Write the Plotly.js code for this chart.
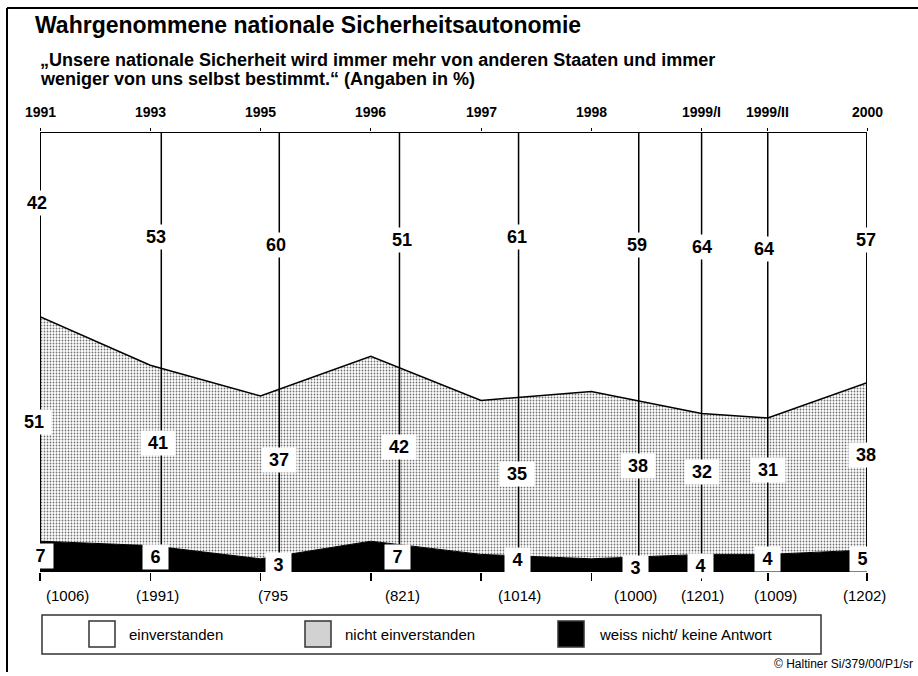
<!DOCTYPE html>
<html>
<head>
<meta charset="utf-8">
<script src="https://cdn.plot.ly/plotly-3.0.1.min.js"></script>
<style>
  html, body { margin: 0; padding: 0; background: #fff; }
  #chart { width: 918px; height: 676px; }
</style>
</head>
<body>
<div id="chart"></div>
<script>
// ---------------- data ----------------
const surveys = ['1991', '1993', '1995', '1996', '1997', '1998', '1999/I', '1999/II', '2000'];
// relative position of each survey on the time axis (as drawn in the original)
const surveyTime = [0, 1, 2, 3, 4, 5, 6, 6.6, 7.5];
const sampleSize = ['(1006)', '(1991)', '(795', '(821)', '(1014)', '(1000)', '(1201)', '(1009)', '(1202)'];
const einverstanden = [42, 53, 60, 51, 61, 59, 64, 64, 57];
const nichtEinverstanden = [51, 41, 37, 42, 35, 38, 32, 31, 38];
const weissNicht = [7, 6, 3, 7, 4, 3, 4, 4, 5];

// ---------------- label placement (layout only) ----------------
const markerLineX = [0, 1.1, 2.17, 3.26, 4.34, 5.43, 6.0, 6.6, 7.5];
const topLabelX = [-0.03, 1.05, 2.14, 3.28, 4.33, 5.41, 6.0, 6.57, 7.49];
const topLabelY = [83.9, 76.1, 74.3, 75.5, 76.1, 74.3, 73.9, 73.4, 75.5];
const midLabelX = [-0.05, 1.07, 2.17, 3.26, 4.33, 5.42, 6.0, 6.6, 7.49];
const midLabelY = [34.1, 29.3, 25.5, 28.4, 22.3, 24.1, 22.7, 23.2, 26.6];
const lowLabelX = [0, 1.05, 2.16, 3.24, 4.33, 5.40, 5.99, 6.6, 7.46];
const lowLabelY = [3.6, 3.4, 1.6, 3.4, 2.7, 0.9, 1.4, 3.0, 3.0];
const nLabelX = [0.25, 1.07, 2.11, 3.29, 4.35, 5.40, 6.01, 6.67, 7.48];

const W = 918, H = 676;
const M = { l: 40, r: 51, t: 132, b: 104 };
const PW = W - M.l - M.r, PH = H - M.t - M.b;
const px = v => (v - M.l) / PW;          // page px -> paper x
const py = v => (H - M.b - v) / PH;      // page px -> paper y
const X0 = surveyTime[0], X1 = surveyTime[surveyTime.length - 1];
const xPaper = v => (v - X0) / (X1 - X0); // time axis value -> paper x (labels may sit outside the range)

const FONT = 'Liberation Sans, Arial, Helvetica, sans-serif';
const GRAY_FG = '#707070';

// ---------------- traces ----------------
const traces = [
  {
    name: 'weiss nicht/ keine Antwort', x: surveyTime, y: weissNicht,
    type: 'scatter', mode: 'lines', stackgroup: 'one',
    line: { color: '#000', width: 1 }, fillcolor: '#000', hoverinfo: 'y+name'
  },
  {
    name: 'nicht einverstanden', x: surveyTime, y: nichtEinverstanden,
    type: 'scatter', mode: 'lines', stackgroup: 'one',
    line: { color: '#000', width: 1.5 }, fillcolor: '#ffffff',
    fillpattern: { shape: '.', size: 3, solidity: 0.28, fgcolor: GRAY_FG, bgcolor: '#ffffff' },
    hoverinfo: 'y+name'
  },
  {
    name: 'einverstanden', x: surveyTime, y: einverstanden,
    type: 'scatter', mode: 'lines', stackgroup: 'one',
    line: { color: '#000', width: 0 }, fillcolor: '#ffffff', hoverinfo: 'y+name'
  }
];

// ---------------- shapes ----------------
const shapes = [];
shapes.push({ type: 'line', xref: 'paper', yref: 'paper', x0: px(7), x1: px(918), y0: py(8), y1: py(8), line: { color: '#000', width: 2 } });
shapes.push({ type: 'line', xref: 'paper', yref: 'paper', x0: px(7), x1: px(7), y0: py(8), y1: py(672), line: { color: '#000', width: 2 } });
shapes.push({ type: 'line', xref: 'x', yref: 'y', x0: X0, x1: X1, y0: 100, y1: 100, layer: 'above', line: { color: '#000', width: 2 } });
markerLineX.forEach((xv, i) => {
  shapes.push({ type: 'line', xref: 'x', yref: 'y', x0: xv, x1: xv, y0: 0, y1: 100, layer: 'above',
    line: { color: '#000', width: (i === 0 || i === markerLineX.length - 1) ? 2 : 1.5 } });
});
shapes.push({ type: 'rect', xref: 'paper', yref: 'paper', x0: px(42), x1: px(821), y0: py(654), y1: py(615), line: { color: '#333', width: 1.5 }, fillcolor: 'rgba(0,0,0,0)' });
const swatches = [[89, '#ffffff'], [305, '#d2d2d2'], [558, '#000000']];
swatches.forEach(([x0, c]) => {
  shapes.push({ type: 'rect', xref: 'paper', yref: 'paper', x0: px(x0), x1: px(x0 + 26), y0: py(647), y1: py(621), line: { color: '#333', width: 1.5 }, fillcolor: c });
});

// ---------------- annotations ----------------
const ann = [];
const txt = (o) => ann.push(Object.assign({ showarrow: false }, o));

txt({ text: 'Wahrgenommene nationale Sicherheitsautonomie', xref: 'paper', yref: 'paper', x: px(33), y: py(25), xanchor: 'left', yanchor: 'middle',
  font: { family: FONT, size: 23, color: '#000', weight: 700 } });
txt({ text: '\u201EUnsere nationale Sicherheit wird immer mehr von anderen Staaten und immer', xref: 'paper', yref: 'paper', x: px(38), y: py(60), xanchor: 'left', yanchor: 'middle',
  font: { family: FONT, size: 18, color: '#000', weight: 700 } });
txt({ text: 'weniger von uns selbst bestimmt.\u201C (Angaben in %)', xref: 'paper', yref: 'paper', x: px(38), y: py(79), xanchor: 'left', yanchor: 'middle',
  font: { family: FONT, size: 18, color: '#000', weight: 700 } });

surveys.forEach((s, i) => {
  txt({ text: s, xref: 'paper', yref: 'paper', x: xPaper(surveyTime[i]), y: py(112), xanchor: 'center', yanchor: 'middle',
    font: { family: FONT, size: 14, color: '#000', weight: 700 } });
});
sampleSize.forEach((s, i) => {
  txt({ text: s, xref: 'paper', yref: 'paper', x: xPaper(nLabelX[i]), y: py(595), xanchor: 'center', yanchor: 'middle',
    font: { family: FONT, size: 15, color: '#000' } });
});
const valueLabel = (v, xv, yv) => {
  const w = String(v).length > 1 ? 34 : 25;
  txt({ text: String(v), xref: 'paper', yref: 'y', x: xPaper(xv), y: yv, xanchor: 'center', yanchor: 'middle',
    width: w, height: 24, bgcolor: '#ffffff', borderpad: 0,
    font: { family: FONT, size: 18, color: '#000', weight: 700 } });
};
einverstanden.forEach((v, i) => valueLabel(v, topLabelX[i], topLabelY[i]));
nichtEinverstanden.forEach((v, i) => valueLabel(v, midLabelX[i], midLabelY[i]));
weissNicht.forEach((v, i) => valueLabel(v, lowLabelX[i], lowLabelY[i]));

const legendNames = ['einverstanden', 'nicht einverstanden', 'weiss nicht/ keine Antwort'];
const legendTextX = [127, 343, 597];
legendNames.forEach((n, i) => {
  txt({ text: n, xref: 'paper', yref: 'paper', x: px(legendTextX[i]), y: py(634), xanchor: 'left', yanchor: 'middle',
    font: { family: FONT, size: 15, color: '#000' } });
});
txt({ text: '\u00A9 Haltiner Si/379/00/P1/sr', xref: 'paper', yref: 'paper', x: px(915), y: py(664), xanchor: 'right', yanchor: 'middle',
  font: { family: FONT, size: 12, color: '#000' } });

const layout = {
  width: W, height: H,
  margin: { l: M.l, r: M.r, t: M.t, b: M.b, pad: 0 },
  paper_bgcolor: '#ffffff', plot_bgcolor: '#ffffff',
  showlegend: false,
  font: { family: FONT, color: '#000' },
  xaxis: {
    range: [X0, X1],
    showgrid: false, zeroline: false, showline: false,
    tickmode: 'array', tickvals: surveyTime, ticks: 'outside', ticklen: 8, tickwidth: 1.5, tickcolor: '#000',
    showticklabels: false, fixedrange: true
  },
  xaxis2: {
    overlaying: 'x', side: 'top', matches: 'x',
    range: [X0, X1],
    showgrid: false, zeroline: false, showline: false,
    tickmode: 'array', tickvals: surveyTime, ticks: 'outside', ticklen: 3, tickwidth: 1, tickcolor: '#000',
    showticklabels: false
  },
  yaxis: { range: [0, 100], visible: false, fixedrange: true },
  shapes: shapes,
  annotations: ann
};

traces.push({ x: [X0], y: [0], xaxis: 'x2', yaxis: 'y', type: 'scatter', mode: 'markers', marker: { opacity: 0 }, hoverinfo: 'skip', showlegend: false });

Plotly.newPlot('chart', traces, layout, { displayModeBar: false, staticPlot: true });
</script>
</body>
</html>
